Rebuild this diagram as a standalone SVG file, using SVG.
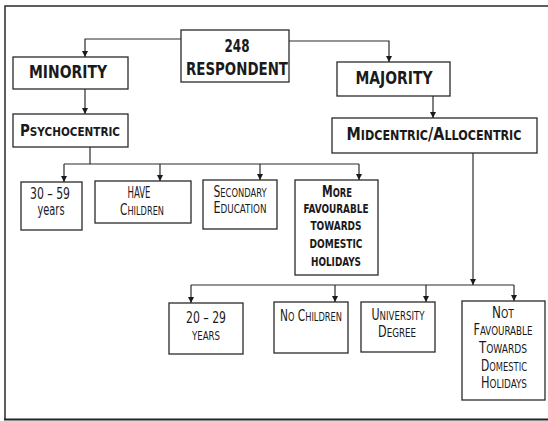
<svg xmlns="http://www.w3.org/2000/svg" width="548" height="421" viewBox="0 0 548 421">
<style>
text{font-family:"DejaVu Sans Condensed","Liberation Sans",sans-serif;fill:#1a1a1a;text-anchor:middle}
.b{font-weight:bold}
.box{fill:#fff;stroke:#2a2a2a;stroke-width:1.3}
.ln{fill:none;stroke:#2a2a2a;stroke-width:1.2}
.s{font-size:0.78em}
</style>
<defs>
<marker id="ah" viewBox="0 0 8 8" refX="8" refY="4" markerWidth="7" markerHeight="6" markerUnits="userSpaceOnUse" orient="auto">
<path d="M0,0 L8,4 L0,8 z" fill="#1a1a1a"/>
</marker>
</defs>
<rect width="548" height="421" fill="#fff"/>
<path d="M5,420 V6 H548" fill="none" stroke="#2a2a2a" stroke-width="1.5"/>
<path d="M4,419.5 H548" fill="none" stroke="#222" stroke-width="2.2"/>
<g id="connectors" class="ln">
<path d="M181,39 H85 V57" marker-end="url(#ah)"/>
<path d="M289,41 H389 V62" marker-end="url(#ah)"/>
<path d="M85,89 V114" marker-end="url(#ah)"/>
<path d="M433,96 V118" marker-end="url(#ah)"/>
<path d="M90,147 V164 M64,164 H359"/>
<path d="M64,164 V182" marker-end="url(#ah)"/>
<path d="M160,164 V181" marker-end="url(#ah)"/>
<path d="M260,164 V180" marker-end="url(#ah)"/>
<path d="M359,164 V180" marker-end="url(#ah)"/>
<path d="M473,153 V285" marker-end="url(#ah)"/>
<path d="M191,285 H514"/>
<path d="M191,285 V303" marker-end="url(#ah)"/>
<path d="M335,285 V302" marker-end="url(#ah)"/>
<path d="M426,285 V302" marker-end="url(#ah)"/>
<path d="M514,285 V301" marker-end="url(#ah)"/>
</g>
<g id="respondent">
<rect class="box" x="181" y="30" width="108" height="52"/>
<text class="b" x="237" y="52" font-size="17" textLength="25" lengthAdjust="spacingAndGlyphs">248</text>
<text class="b" x="237" y="75" font-size="17" textLength="102" lengthAdjust="spacingAndGlyphs">RESPONDENT</text>
</g>
<g id="minority">
<rect class="box" x="13" y="57" width="115" height="32"/>
<text class="b" x="68" y="78" font-size="17" textLength="78" lengthAdjust="spacingAndGlyphs">MINORITY</text>
</g>
<g id="majority">
<rect class="box" x="337" y="62" width="113" height="34"/>
<text class="b" x="394" y="84" font-size="17" textLength="77" lengthAdjust="spacingAndGlyphs">MAJORITY</text>
</g>
<g id="psychocentric">
<rect class="box" x="13" y="114" width="115" height="33"/>
<text class="b" x="70" y="136" font-size="16" textLength="100" lengthAdjust="spacingAndGlyphs">P<tspan class="s">SYCHOCENTRIC</tspan></text>
</g>
<g id="midcentric">
<rect class="box" x="332" y="118" width="205" height="35"/>
<text class="b" x="434" y="140" font-size="17" textLength="175" lengthAdjust="spacingAndGlyphs">M<tspan class="s">IDCENTRIC</tspan>/A<tspan class="s">LLOCENTRIC</tspan></text>
</g>
<g id="age3059">
<rect class="box" x="21" y="182" width="61" height="48"/>
<text x="50" y="199" font-size="15" textLength="40" lengthAdjust="spacingAndGlyphs">30 – 59</text>
<text x="51" y="215" font-size="15" textLength="27" lengthAdjust="spacingAndGlyphs">years</text>
</g>
<g id="havechildren">
<rect class="box" x="95" y="181" width="96" height="42"/>
<text x="139" y="198" font-size="15" textLength="23" lengthAdjust="spacingAndGlyphs">HAVE</text>
<text x="142" y="215" font-size="15" textLength="44" lengthAdjust="spacingAndGlyphs">C<tspan class="s">HILDREN</tspan></text>
</g>
<g id="secondary">
<rect class="box" x="203" y="180" width="74" height="49"/>
<text x="240" y="197" font-size="15" textLength="53" lengthAdjust="spacingAndGlyphs">S<tspan class="s">ECONDARY</tspan></text>
<text x="240" y="213" font-size="15" textLength="53" lengthAdjust="spacingAndGlyphs">E<tspan class="s">DUCATION</tspan></text>
</g>
<g id="morefav">
<rect class="box" x="295" y="180" width="83" height="95"/>
<text class="b" x="337" y="197" font-size="15" textLength="30" lengthAdjust="spacingAndGlyphs">M<tspan class="s">ORE</tspan></text>
<text class="b" x="336" y="213" font-size="12" textLength="65" lengthAdjust="spacingAndGlyphs">FAVOURABLE</text>
<text class="b" x="336" y="230" font-size="12" textLength="51" lengthAdjust="spacingAndGlyphs">TOWARDS</text>
<text class="b" x="336" y="248" font-size="12" textLength="53" lengthAdjust="spacingAndGlyphs">DOMESTIC</text>
<text class="b" x="336" y="266" font-size="12" textLength="50" lengthAdjust="spacingAndGlyphs">HOLIDAYS</text>
</g>
<g id="age2029">
<rect class="box" x="169" y="303" width="74" height="51"/>
<text x="206" y="323" font-size="15" textLength="40" lengthAdjust="spacingAndGlyphs">20 – 29</text>
<text x="206" y="340" font-size="12" textLength="28" lengthAdjust="spacingAndGlyphs">YEARS</text>
</g>
<g id="nochildren">
<rect class="box" x="274" y="302" width="74" height="51"/>
<text x="311" y="321" font-size="15" textLength="62" lengthAdjust="spacingAndGlyphs">N<tspan class="s">O</tspan> C<tspan class="s">HILDREN</tspan></text>
</g>
<g id="university">
<rect class="box" x="361" y="302" width="74" height="50"/>
<text x="398" y="320" font-size="15" textLength="53" lengthAdjust="spacingAndGlyphs">U<tspan class="s">NIVERSITY</tspan></text>
<text x="397" y="337" font-size="15" textLength="38" lengthAdjust="spacingAndGlyphs">D<tspan class="s">EGREE</tspan></text>
</g>
<g id="notfav">
<rect class="box" x="462" y="301" width="83" height="99"/>
<text x="503" y="318" font-size="15" textLength="22" lengthAdjust="spacingAndGlyphs">N<tspan class="s">OT</tspan></text>
<text x="503" y="335" font-size="15" textLength="59" lengthAdjust="spacingAndGlyphs">F<tspan class="s">AVOURABLE</tspan></text>
<text x="503" y="353" font-size="15" textLength="48" lengthAdjust="spacingAndGlyphs">T<tspan class="s">OWARDS</tspan></text>
<text x="504" y="371" font-size="15" textLength="46" lengthAdjust="spacingAndGlyphs">D<tspan class="s">OMESTIC</tspan></text>
<text x="504" y="388" font-size="15" textLength="46" lengthAdjust="spacingAndGlyphs">H<tspan class="s">OLIDAYS</tspan></text>
</g>
</svg>
